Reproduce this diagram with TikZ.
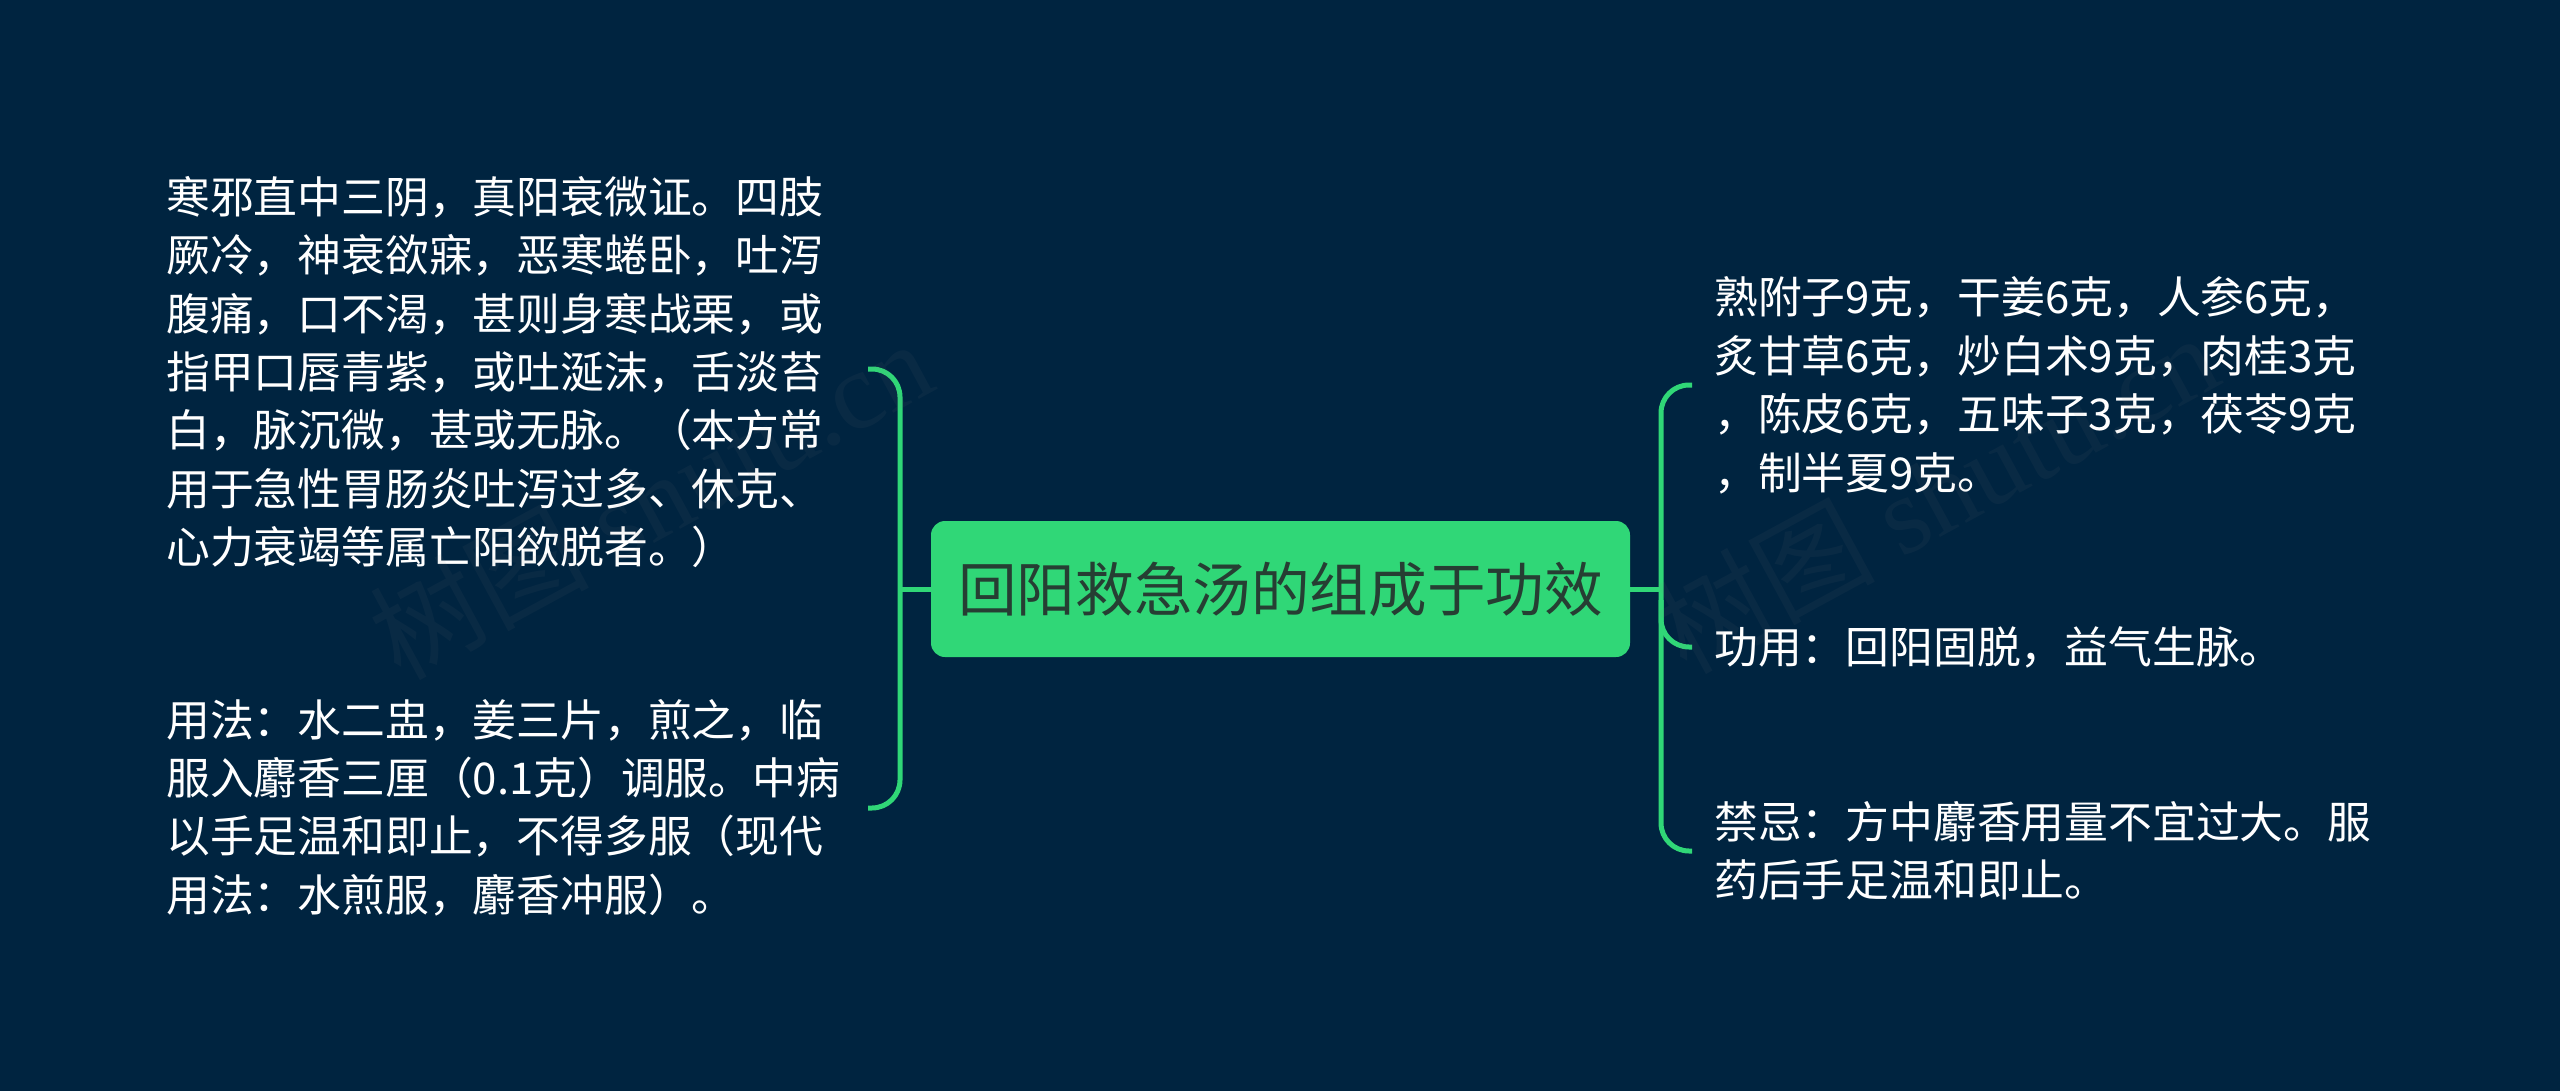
\documentclass[tikz,border=0pt]{standalone}
\usepackage{fontspec}
\setmainfont{Noto Sans CJK SC}
\newfontfamily\wmlatin{Liberation Serif}
\definecolor{bgc}{HTML}{002440}
\definecolor{grn}{HTML}{30D777}
\definecolor{ttl}{HTML}{263E33}
\tikzset{
  leaf/.style={anchor=west,inner sep=0pt,text=white,font=\fontsize{43.8}{43.8}\selectfont},
  rootbox/.style={rounded corners=14pt,fill=grn,minimum width=699pt,minimum height=136pt,inner sep=0pt,text=ttl,font=\fontsize{58.6}{58.6}\selectfont},
  conn/.style={draw=grn,line width=5pt,rounded corners=28pt},
  wm/.style={rotate=28.5,text=gray,opacity=0.07,inner sep=0pt,font=\fontsize{110}{110}\selectfont}
}
\begin{document}
\begin{tikzpicture}[x=1pt,y=-1pt]
\useasboundingbox (0,0) rectangle (2560,1091);
\fill[bgc] (0,0) rectangle (2560,1091);
\node[rootbox] (root) at (1280.5,589) {回阳救急汤的组成于功效};
\coordinate (la) at (868,369);
\coordinate (lb) at (868,808);
\coordinate (ra) at (1692,385);
\coordinate (rb) at (1692,647);
\coordinate (rc) at (1692,851);
\draw[conn] (la) -| (900,808) -- (lb);
\draw[draw=grn,line width=5pt] (root.west) -- (900,589);
\draw[draw=grn,line width=5pt] (root.east) -- (1661,589);
\draw[conn] (ra) -| (1661,851) -- (rc);
\draw[conn] (1661,600) |- (rb);
\node[leaf] (l1) at (166,197) {寒邪直中三阴，真阳衰微证。四肢};
\node[leaf] (l2) at (166,255) {厥冷，神衰欲寐，恶寒蜷卧，吐泻};
\node[leaf] (l3) at (166,314) {腹痛，口不渴，甚则身寒战栗，或};
\node[leaf] (l4) at (166,372) {指甲口唇青紫，或吐涎沫，舌淡苔};
\node[leaf] (l5) at (166,430) {白，脉沉微，甚或无脉。（本方常};
\node[leaf] (l6) at (166,489) {用于急性胃肠炎吐泻过多、休克、};
\node[leaf] (l7) at (166,547) {心力衰竭等属亡阳欲脱者。）};
\node[leaf] (m1) at (166,720) {用法：水二盅，姜三片，煎之，临};
\node[leaf] (m2) at (166,778) {服入麝香三厘（0.1克）调服。中病};
\node[leaf] (m3) at (166,836) {以手足温和即止，不得多服（现代};
\node[leaf] (m4) at (166,895) {用法：水煎服，麝香冲服）。};
\node[leaf] (r1) at (1714,297) {熟附子9克，干姜6克，人参6克，};
\node[leaf] (r2) at (1714,356) {炙甘草6克，炒白术9克，肉桂3克};
\node[leaf] (r3) at (1714,414) {，陈皮6克，五味子3克，茯苓9克};
\node[leaf] (r4) at (1714,473) {，制半夏9克。};
\node[leaf] (r5) at (1714,647) {功用：回阳固脱，益气生脉。};
\node[leaf] (r6) at (1714,822) {禁忌：方中麝香用量不宜过大。服};
\node[leaf] (r7) at (1714,880) {药后手足温和即止。};
\node[wm] (w1) at (650,498) {树图 {\wmlatin shutu.cn}};
\node[wm] (w2) at (1936,492) {树图 {\wmlatin shutu.cn}};
\end{tikzpicture}
\end{document}
